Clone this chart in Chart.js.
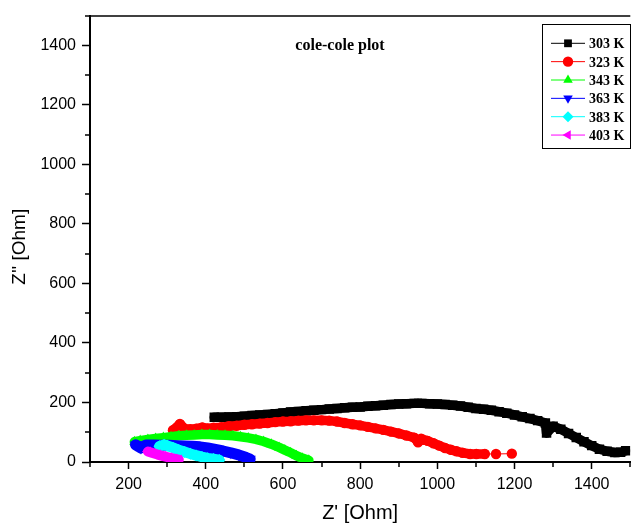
<!DOCTYPE html>
<html>
<head>
<meta charset="utf-8">
<script src="https://cdn.jsdelivr.net/npm/chart.js@4/dist/chart.umd.min.js"></script>
<style>
  html, body { margin: 0; padding: 0; background: #fff; }
</style>
</head>
<body>
<canvas id="chart" width="637" height="525"></canvas>
<script>
// Z' / Z'' values, one pair of arrays per temperature
const x303 = [422, 440, 460, 480, 500, 520, 540, 560, 580, 600, 620, 640, 660, 680, 700, 720, 740, 760, 780, 800, 820, 840, 860, 880, 900, 920, 940, 960, 980, 1000, 1020, 1040, 1060, 1080, 1100, 1120, 1140, 1160, 1180, 1200, 1220, 1240, 1260, 1280, 1283, 1300, 1320, 1340, 1360, 1380, 1400, 1420, 1440, 1460, 1475, 1488];
const y303 = [150, 150, 151, 152, 154, 156, 158, 160, 162, 165, 168, 170, 172, 174, 176, 178, 180, 182, 184, 185, 187, 189, 191, 193, 195, 196, 197, 197, 196, 195, 193, 191, 188, 184, 180, 177, 174, 169, 164, 158, 152, 146, 139, 131, 97, 120, 110, 96, 82, 68, 55, 43, 36, 32, 33, 38];

const x323 = [315, 333, 345, 360, 375, 391, 405, 420, 440, 460, 480, 500, 520, 540, 560, 580, 600, 620, 640, 660, 680, 700, 720, 740, 760, 780, 800, 820, 840, 860, 880, 900, 920, 940, 950, 958, 975, 990, 1005, 1020, 1035, 1050, 1065, 1085, 1101, 1123, 1152, 1193];
const y323 = [107, 128, 112, 110, 112, 116, 113, 115, 117, 120, 122, 125, 127, 129, 131, 134, 136, 137, 139, 140, 140, 140, 139, 136, 131, 127, 123, 118, 113, 108, 102, 96, 89, 82, 66, 78, 71, 63, 55, 47, 41, 36, 31, 27, 27, 27, 27, 28];

const x343 = [215, 230, 250, 270, 290, 310, 330, 350, 370, 390, 410, 430, 450, 470, 490, 510, 530, 550, 570, 590, 605, 620, 635, 650, 667];
const y343 = [68, 72, 76, 79, 82, 85, 88, 90, 91, 92, 92, 91, 90, 88, 85, 81, 76, 69, 60, 49, 40, 31, 21, 13, 6];

const x363 = [218, 232, 245, 265, 285, 305, 325, 345, 365, 385, 405, 425, 445, 465, 485, 505, 515];
const y363 = [58, 47, 57, 57, 56, 56, 55, 54, 53, 51, 47, 42, 37, 31, 24, 15, 10];

const x383 = [280, 292, 300, 315, 330, 345, 360, 375, 390, 405, 420, 435];
const y383 = [53, 58, 55, 48, 40, 34, 28, 22, 17, 13, 10, 7];

const x403 = [250, 262, 275, 290, 305, 318, 330];
const y403 = [35, 30, 25, 20, 15, 11, 8];

const seriesLabels = ["303 K", "323 K", "343 K", "363 K", "383 K", "403 K"];
const xTickLabels = [200, 400, 600, 800, 1000, 1200, 1400];
const yTickLabels = [0, 200, 400, 600, 800, 1000, 1200, 1400];

const series = [
  { x: x303, y: y303, color: "#000000", style: "rect", rot: 0, r: 6.7, band: 9.5 },
  { x: x323, y: y323, color: "#ff0000", style: "circle", rot: 0, r: 5.2, band: 9.5 },
  { x: x343, y: y343, color: "#00ff00", style: "triangle", rot: 0, r: 6, band: 9.5 },
  { x: x363, y: y363, color: "#0000ff", style: "triangle", rot: 180, r: 6.5, band: 11 },
  { x: x383, y: y383, color: "#00ffff", style: "rectRot", rot: 0, r: 6, band: 10.5 },
  { x: x403, y: y403, color: "#ff00ff", style: "triangle", rot: -90, r: 6, band: 10 },
];

const toPoints = (xs, ys) => xs.map((v, i) => ({ x: v, y: ys[i] }));

// dense runs of markers overlap into a band; isolated ones keep a thin line
const segWidth = (band) => (ctx) => {
  const d = Math.hypot(ctx.p1.x - ctx.p0.x, ctx.p1.y - ctx.p0.y);
  return d < 11 ? band : 1;
};

const datasets = series.map((s, i) => ({
  label: seriesLabels[i],
  data: toPoints(s.x, s.y),
  showLine: true,
  borderColor: s.color,
  backgroundColor: s.color,
  borderWidth: 1,
  borderJoinStyle: "round",
  borderCapStyle: "round",
  segment: { borderWidth: segWidth(s.band) },
  pointStyle: s.style,
  pointRotation: s.rot,
  pointRadius: s.r,
  pointBorderWidth: 0,
  clip: 0,
  order: series.length - i, // later series on top
}));

// short minor ticks, frame line, title and legend
const extras = {
  id: "extras",
  afterDraw(chart) {
    const ctx = chart.ctx;
    const { left, right, top, bottom } = chart.chartArea;
    const sx = chart.scales.x;
    const sy = chart.scales.y;
    ctx.save();
    ctx.strokeStyle = "#000";
    ctx.lineWidth = 1.5;
    ctx.beginPath();
    for (let v = 100; v <= 1500; v += 200) {
      const px = Math.round(sx.getPixelForValue(v));
      ctx.moveTo(px, bottom);
      ctx.lineTo(px, bottom + 5);
    }
    for (let v = 100; v <= 1500; v += 200) {
      const py = Math.round(sy.getPixelForValue(v));
      ctx.moveTo(left, py);
      ctx.lineTo(left - 5, py);
    }
    ctx.stroke();

    // top frame
    ctx.lineWidth = 1.5;
    ctx.beginPath();
    ctx.moveTo(left, top + 0.5);
    ctx.lineTo(right, top + 0.5);
    ctx.stroke();

    // title
    ctx.fillStyle = "#000";
    ctx.font = "bold 16px 'Liberation Serif', 'Times New Roman', serif";
    ctx.textAlign = "center";
    ctx.textBaseline = "alphabetic";
    ctx.fillText("cole-cole plot", 340, 50);

    // legend
    const bx = 542.5, by = 24.5, bw = 88, bh = 124;
    ctx.fillStyle = "#fff";
    ctx.fillRect(bx, by, bw, bh);
    ctx.lineWidth = 1;
    ctx.strokeStyle = "#000";
    ctx.strokeRect(bx, by, bw, bh);
    ctx.font = "bold 14px 'Liberation Serif', 'Times New Roman', serif";
    ctx.textAlign = "left";
    series.forEach((s, i) => {
      const y = 43.3 + i * 18.35;
      ctx.strokeStyle = s.color;
      ctx.lineWidth = 1;
      ctx.beginPath();
      ctx.moveTo(551, y);
      ctx.lineTo(585, y);
      ctx.stroke();
      ctx.fillStyle = s.color;
      Chart.helpers.drawPoint(ctx, { pointStyle: s.style, rotation: s.rot, radius: Math.min(s.r, 5.5), borderWidth: 0 }, 568, y);
      ctx.fillStyle = "#000";
      ctx.fillText(seriesLabels[i], 589, y + 5);
    });
    ctx.restore();
  },
};

const tickFont = { family: "'Liberation Sans', Arial, sans-serif", size: 16 };

new Chart(document.getElementById("chart"), {
  type: "scatter",
  data: { datasets },
  options: {
    responsive: false,
    animation: false,
    layout: { padding: { top: 15, right: 0, left: 0, bottom: 0 } },
    plugins: {
      legend: { display: false },
      tooltip: { enabled: false },
    },
    scales: {
      x: {
        type: "linear",
        min: 100,
        max: 1500,
        afterFit: (s) => { s.height = 63; },
        border: { display: true, color: "#000", width: 2 },
        grid: {
          drawOnChartArea: false,
          drawTicks: true,
          tickLength: 7,
          tickWidth: 1.5,
          tickColor: (c) => (xTickLabels.includes(c.tick && c.tick.value) ? "#000" : "rgba(0,0,0,0)"),
        },
        ticks: {
          stepSize: 100,
          autoSkip: false,
          maxRotation: 0,
          padding: 6,
          color: "#000",
          font: tickFont,
          callback: (v) => (xTickLabels.includes(v) ? String(v) : ""),
        },
        title: {
          display: true,
          text: "Z' [Ohm]",
          color: "#000",
          font: { family: "'Liberation Sans', Arial, sans-serif", size: 20 },
          padding: { top: 0, bottom: 0 },
        },
      },
      y: {
        type: "linear",
        min: 0,
        max: 1500,
        afterFit: (s) => { s.width = 90; },
        border: { display: true, color: "#000", width: 2 },
        grid: {
          drawOnChartArea: false,
          drawTicks: true,
          tickLength: 8,
          tickWidth: 1.5,
          tickColor: (c) => (yTickLabels.includes(c.tick && c.tick.value) ? "#000" : "rgba(0,0,0,0)"),
        },
        ticks: {
          stepSize: 100,
          autoSkip: false,
          padding: 6,
          color: "#000",
          font: tickFont,
          callback: (v) => (yTickLabels.includes(v) ? String(v) : ""),
        },
        title: {
          display: true,
          text: "Z'' [Ohm]   ",
          color: "#000",
          font: { family: "'Liberation Sans', Arial, sans-serif", size: 19 },
          padding: { top: 8, bottom: 0 },
        },
      },
    },
  },
  plugins: [extras],
});
</script>
</body>
</html>
